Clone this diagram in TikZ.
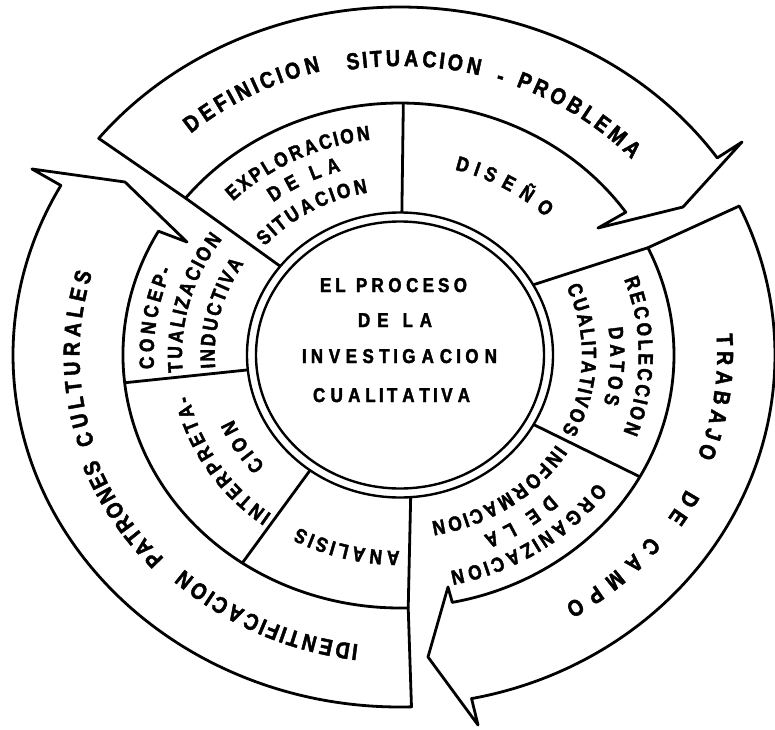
\documentclass[tikz,border=0pt]{standalone}
\usepackage{fontspec}
\newfontfamily\letterfont{Liberation Sans Bold}[FakeStretch=0.85, FakeBold=2]
\usetikzlibrary{decorations.text}

\newcommand{\bandfont}{\letterfont\fontsize{23}{23}\selectfont}
\newcommand{\segfont}{\letterfont\fontsize{20.5}{20.5}\selectfont}
\newcommand{\corefont}{\letterfont\fontsize{20}{20}\selectfont}

\tikzset{
    outline/.style={draw, line width=2.8pt, line join=round},
    bandtext/.style={decorate, decoration={text effects along path, text={#1},
        text effects/.cd, text along path, fit text to path, characters={font=\bandfont}}},
    segtext/.style={decorate, decoration={text effects along path, text={#1},
        text effects/.cd, text along path, fit text to path, characters={font=\segfont}}},
    coretext/.style={decorate, decoration={text effects along path, text={#1},
        text effects/.cd, text along path, fit text to path, characters={font=\corefont}}}
}

\begin{document}
\begin{tikzpicture}[x=1pt, y=1pt]
\useasboundingbox (-400,-374) rectangle (375,355);

% centre
\draw[outline, line width=2.4pt] (0,0) ellipse[x radius=153, y radius=142.5];
\draw[outline, line width=2.4pt] (0,0) ellipse[x radius=144, y radius=133.5];

\path[coretext={EL PROCESO}] (-80,63) -- (67,63);
\path[coretext={DE LA}] (-42,28) -- (32,28);
\path[coretext={INVESTIGACION}] (-98,-8) -- (97,-8);
\path[coretext={CUALITATIVA}] (-87,-47) -- (70,-47);

% outer arrows
\draw[outline] (141.5:385 and 348) arc[start angle=141.5, end angle=34.5, x radius=385, y radius=348]
    -- (342,213) -- (283,148) -- (198,127) -- (34.5:274 and 252)
    arc[start angle=34.5, end angle=141.5, x radius=274, y radius=252] -- cycle;
\draw[outline] (25.2:375 and 350) arc[start angle=25.2, end angle=-79, x radius=375, y radius=350]
    -- (78,-370) -- (28,-302) -- (48,-232) -- (-79:274 and 252)
    arc[start angle=-79, end angle=25.2, x radius=274, y radius=252] -- cycle;
\draw[outline] (-88.3:387 and 352) arc[start angle=-88.3, end angle=-208.8, x radius=387, y radius=352]
    -- (-368,186) -- (-275,173) -- (-213,113) -- (-209.3:277 and 253)
    arc[start angle=-209.3, end angle=-88.3, x radius=277, y radius=253] -- cycle;

% middle ring
\draw[outline] (141.5:153 and 142.5) -- (141.5:274 and 252);
\draw[outline] (89.3:153 and 142.5) -- (89.3:274 and 252);
\draw[outline] (29.5:153 and 142.5) -- (25.2:274 and 252);
\draw[outline] (-29.2:153 and 142.5) -- (-28.9:274 and 252);
\draw[outline] (-86:153 and 142.5) -- (-88.3:277 and 253);
\draw[outline] (234:153 and 142.5) -- (235.3:277 and 253);
\draw[outline] (186:153 and 142.5) -- (186.3:277 and 253);

\path[bandtext={DEFINICION}] (130.9:319.4 and 293) arc[start angle=130.9, end angle=104.4, x radius=319.4, y radius=293];
\path[bandtext={SITUACION}] (99.6:315 and 289) arc[start angle=99.6, end angle=75.4, x radius=315, y radius=289];
\node[font=\bandfont, rotate=-17] (dash) at (71.6:316 and 290) {-};
\path[bandtext={PROBLEMA}] (68.4:315 and 289) arc[start angle=68.4, end angle=42.6, x radius=315, y radius=289];

\path[bandtext={TRABAJO}] (4.1:317.2 and 291) arc[start angle=4.1, end angle=-20.4, x radius=317.2, y radius=291];
\path[bandtext={DE}] (-27.1:321.6 and 295) arc[start angle=-27.1, end angle=-33.6, x radius=321.6, y radius=295];
\path[bandtext={CAMPO}] (-38.3:318.3 and 292) arc[start angle=-38.3, end angle=-58.8, x radius=318.3, y radius=292];

\path[bandtext={IDENTIFICACION}] (262.5:318.3 and 292) arc[start angle=262.5, end angle=227.2, x radius=318.3, y radius=292];
\path[bandtext={PATRONES}] (223.2:323.7 and 297) arc[start angle=223.2, end angle=200.5, x radius=323.7, y radius=297];
\path[bandtext={CULTURALES}] (197.6:320.5 and 294) arc[start angle=197.6, end angle=163.8, x radius=320.5, y radius=294];

\path[segtext={EXPLORACION}] (134.9:236.5 and 217) arc[start angle=134.9, end angle=97.2, x radius=236.5, y radius=217];
\path[segtext={DE LA}] (127.3:209.3 and 192) arc[start angle=127.3, end angle=106.4, x radius=209.3, y radius=192];
\path[segtext={SITUACION}] (138.8:179.9 and 165) arc[start angle=138.8, end angle=100.3, x radius=179.9, y radius=165];
\path[segtext={DISEÑO}] (74.8:209.3 and 192) arc[start angle=74.8, end angle=45.8, x radius=209.3, y radius=192];
\path[segtext={RECOLECCION}] (20.2:238.7 and 219) arc[start angle=20.2, end angle=-20.7, x radius=238.7, y radius=219];
\path[segtext={DATOS}] (8.1:210.4 and 193) arc[start angle=8.1, end angle=-14.6, x radius=210.4, y radius=193];
\path[segtext={CUALITATIVOS}] (24:182 and 167) arc[start angle=24, end angle=-27.3, x radius=182, y radius=167];
\path[segtext={ORGANIZACION}] (-35.2:240.9 and 221) arc[start angle=-35.2, end angle=-78, x radius=240.9, y radius=221];
\path[segtext={DE LA}] (-45.4:213.6 and 196) arc[start angle=-45.4, end angle=-67, x radius=213.6, y radius=196];
\path[segtext={INFORMACION}] (-32:184.2 and 169) arc[start angle=-32, end angle=-80.2, x radius=184.2, y radius=169];
\path[segtext={ANALISIS}] (-90.1:213.6 and 196) arc[start angle=-90.1, end angle=-118.4, x radius=213.6, y radius=196];
\path[segtext={INTERPRETA-}] (233.5:215.8 and 198) arc[start angle=233.5, end angle=191.9, x radius=215.8, y radius=198];
\path[segtext={CION}] (221.7:180.9 and 166) arc[start angle=221.7, end angle=202.8, x radius=180.9, y radius=166];
\path[segtext={CONCEP-}] (183.5:246.3 and 226) arc[start angle=183.5, end angle=157.9, x radius=246.3, y radius=226];
\path[segtext={TUALIZACION}] (184.9:218 and 200) arc[start angle=184.9, end angle=144.6, x radius=218, y radius=200];
\path[segtext={INDUCTIVA}] (184.4:185.3 and 170) arc[start angle=184.4, end angle=147.4, x radius=185.3, y radius=170];

\end{tikzpicture}
\end{document}
